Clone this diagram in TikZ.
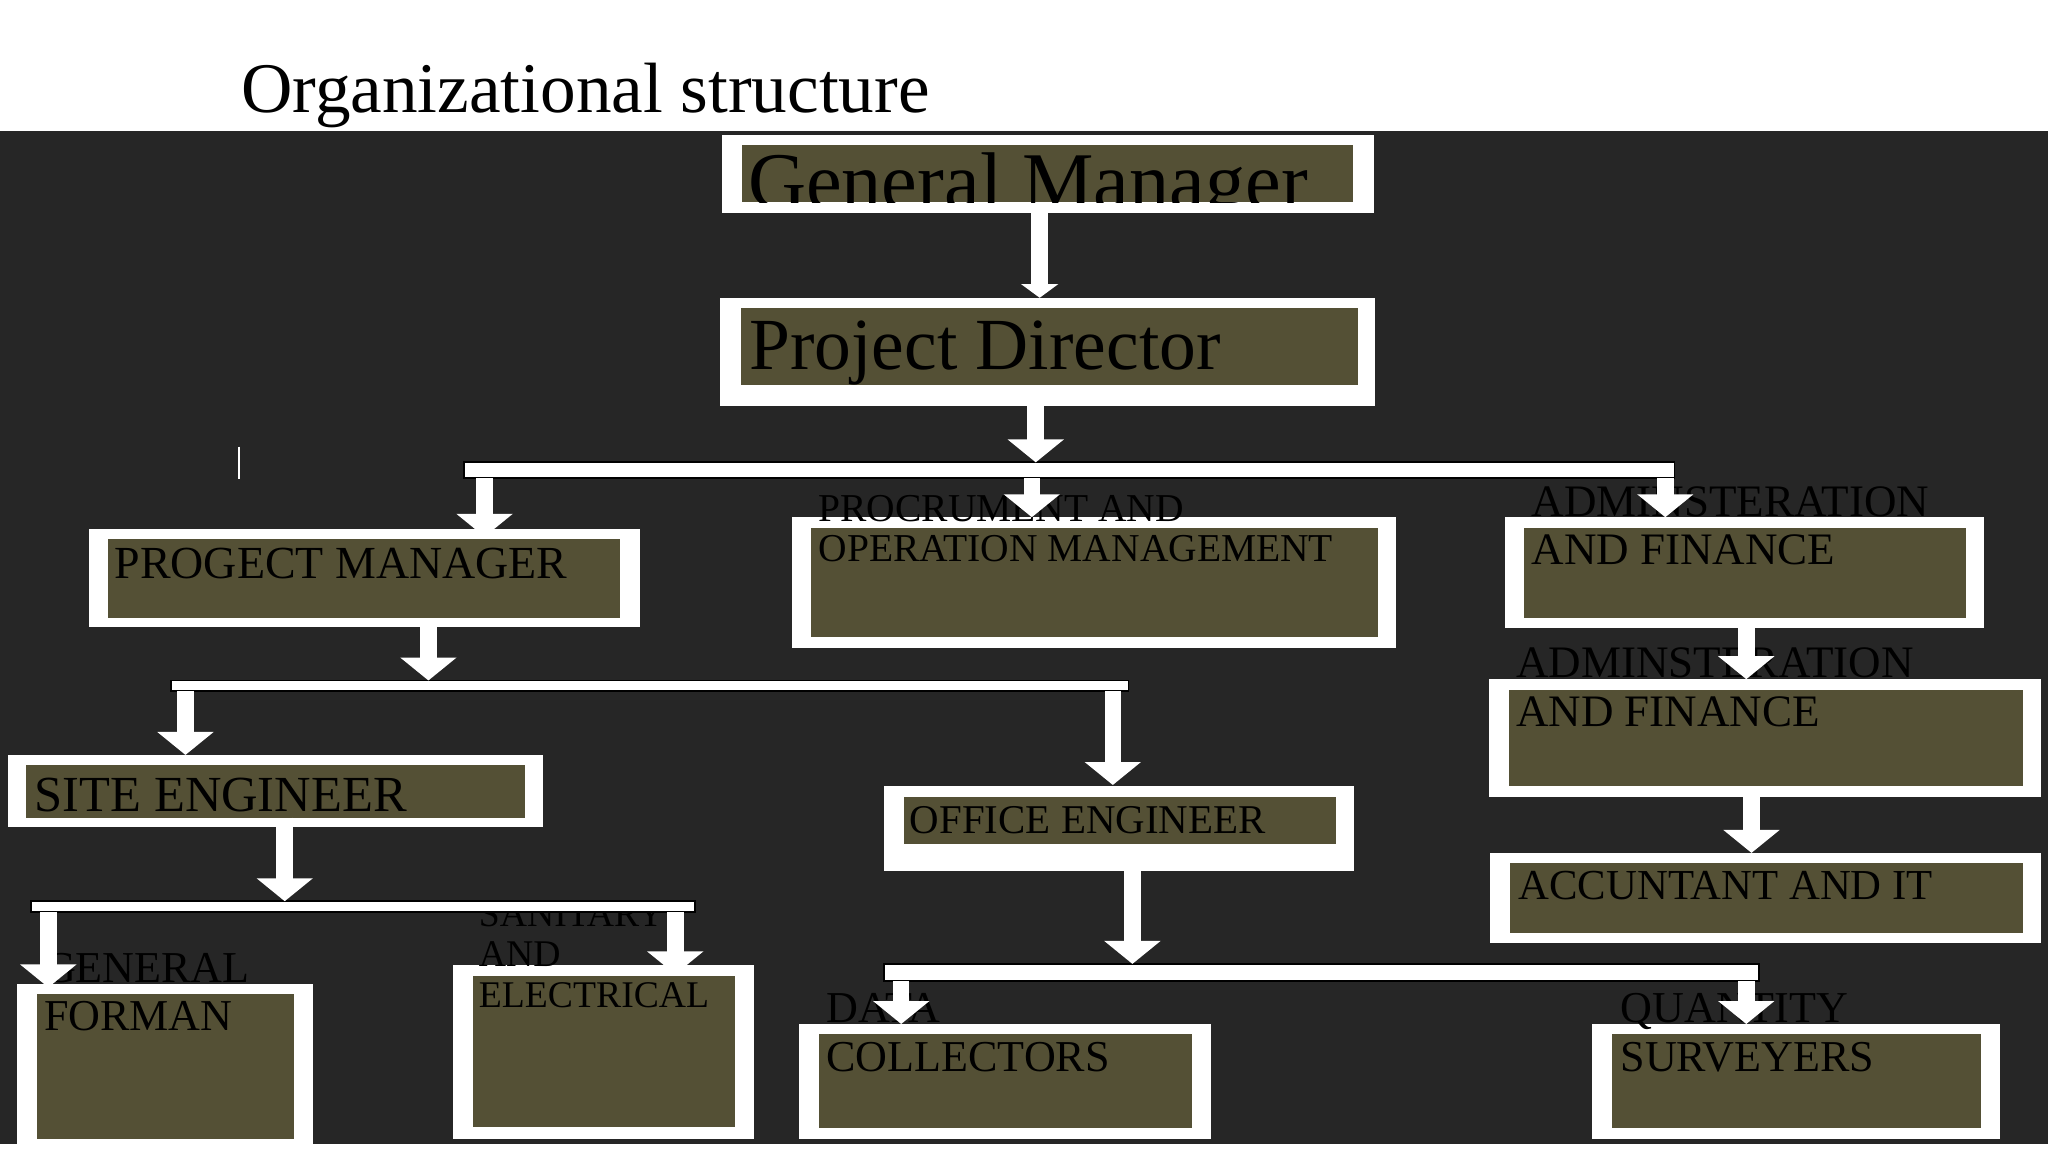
\documentclass[tikz,border=0pt]{standalone}
\usepackage{fontspec}
\setmainfont{Liberation Serif}
\usetikzlibrary{arrows.meta}
\definecolor{bg}{HTML}{262626}
\definecolor{ol}{HTML}{545035}
\newcommand\obox[9]{\fill[white] (#2,#3) rectangle (#4,#5);
  \fill[ol] (#6,#7) rectangle (#8,#9) coordinate (#1);}
\tikzset{arr/.style={draw=white,line width=3.6pt,-{Triangle[width=12pt,length=5pt]}},
  bar/.style={fill=white,draw=black,line width=0.4pt},
  lbl/.style={text=black,inner sep=0pt,anchor=base west,align=left}}
\begin{document}
\begin{tikzpicture}[x=0.01cm,y=-0.01cm]
\useasboundingbox (0,0) rectangle (1568,882);
\fill[white] (0,0) rectangle (1568,882);
\fill[bg] (0,100) rectangle (1568,876);
\node[lbl,font=\fontsize{15.5}{18}\selectfont] (title) at (184,86) {Organizational structure};
\draw[white,line width=0.6pt] (183,342) -- (183,367);
% boxes
\obox{gm}{553}{103}{1052}{163}{568}{111}{1036}{155}
\begin{scope}\clip (568,111) rectangle (1036,155);
\node[lbl,font=\fontsize{17.5}{20}\selectfont] (gmt) at (572,160) {General Manager};\end{scope}
\obox{pd}{551}{228}{1053}{311}{567}{236}{1040}{295}
\node[lbl,font=\fontsize{16}{19}\selectfont] (pdt) at (573,283) {Project Director};
\obox{pm}{68}{405}{490}{480}{83}{413}{475}{473}
\node[lbl,font=\fontsize{10}{12}\selectfont] (pmt) at (87,443) {PROGECT MANAGER};
\obox{pr}{606}{396}{1069}{496}{621}{404}{1055}{488}
\node[lbl,font=\fontsize{8.6}{8.8}\selectfont] (prt) at (626,430) {PROCRUMENT AND\\OPERATION MANAGEMENT};
\obox{a1}{1152}{396}{1519}{481}{1167}{404}{1505}{473}
\node[lbl,font=\fontsize{9.8}{10.5}\selectfont] (a1t) at (1172,432) {ADMINSTERATION\\AND FINANCE};
\obox{a2}{1140}{520}{1563}{610}{1155}{528}{1549}{602}
\node[lbl,font=\fontsize{9.8}{10.5}\selectfont] (a2t) at (1160,556) {ADMINSTERATION\\AND FINANCE};
\obox{ac}{1141}{653}{1563}{722}{1156}{661}{1549}{714}
\node[lbl,font=\fontsize{9.3}{11}\selectfont] (act) at (1162,689) {ACCUNTANT AND IT};
\obox{se}{6}{578}{416}{633}{20}{586}{402}{626}
\node[lbl,font=\fontsize{11}{13}\selectfont] (set) at (26,621) {SITE ENGINEER};
\obox{oe}{677}{602}{1037}{667}{692}{610}{1023}{646}
\node[lbl,font=\fontsize{8.9}{11}\selectfont] (oet) at (696,638) {OFFICE ENGINEER};
\obox{gf}{13}{753}{240}{882}{28}{761}{225}{872}
\node[lbl,font=\fontsize{9.6}{10.5}\selectfont] (gft) at (33,789) {GENERAL\\FORMAN};
\obox{sa}{347}{739}{577}{872}{362}{747}{563}{863}
\node[lbl,font=\fontsize{8.2}{8.8}\selectfont] (sat) at (366,771) {SANITARY\\AND\\ELECTRICAL};
\obox{dc}{612}{784}{927}{872}{627}{792}{913}{864}
\node[lbl,font=\fontsize{9.6}{10.5}\selectfont] (dct) at (632,820) {DATA\\COLLECTORS};
\obox{qs}{1219}{784}{1531}{872}{1234}{792}{1517}{864}
\node[lbl,font=\fontsize{9.6}{10.5}\selectfont] (qst) at (1240,820) {QUANTITY\\SURVEYERS};
% bars
\draw[bar] (355,354) rectangle (1282,366);
\draw[bar] (131,521) rectangle (864,529);
\draw[bar] (24,690) rectangle (532,698);
\draw[bar] (677,738) rectangle (1347,751);
% arrows
\draw[arr,-{Triangle[width=8pt,length=3pt]}] (796,163) -- (796,228);
\draw[arr] (793,311) -- (793,354);
\draw[arr] (371,366) -- (371,411);
\draw[arr] (790,366) -- (790,396);
\draw[arr] (1275,366) -- (1275,396);
\draw[arr] (328,480) -- (328,521);
\draw[arr] (142,529) -- (142,578);
\draw[arr] (852,529) -- (852,601);
\draw[arr] (218,626) -- (218,690);
\draw[arr] (37,698) -- (37,756);
\draw[arr] (517,698) -- (517,746);
\draw[arr] (867,667) -- (867,738);
\draw[arr] (690,751) -- (690,784);
\draw[arr] (1337,751) -- (1337,784);
\draw[arr] (1337,481) -- (1337,520);
\draw[arr] (1341,602) -- (1341,653);
\end{tikzpicture}
\end{document}
